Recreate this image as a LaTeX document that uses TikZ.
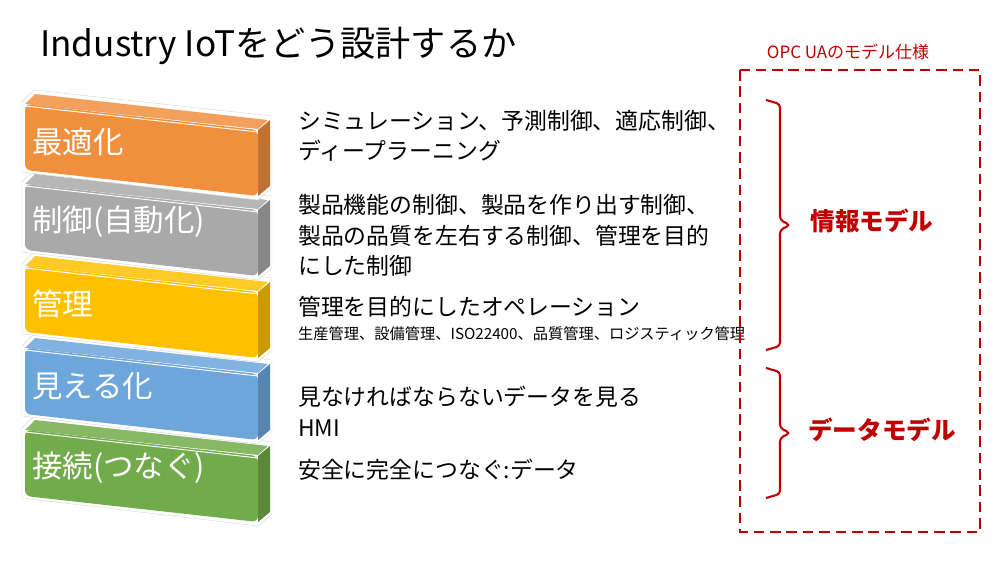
\documentclass[tikz,border=0pt]{standalone}
\usepackage{fontspec}
\setmainfont{Noto Sans CJK JP}
\begin{document}
\begin{tikzpicture}[x=0.03cm,y=-0.03cm]
\useasboundingbox (0,0) rectangle (1000,562);
\definecolor{cOr}{HTML}{F08F3E}\definecolor{cGr}{HTML}{A9A9A9}\definecolor{cYe}{HTML}{FFC000}
\definecolor{cBl}{HTML}{6CA6DA}\definecolor{cGn}{HTML}{72AB4B}\definecolor{dred}{HTML}{C00000}
\tikzset{lbl/.style={anchor=west,text=white,font=\fontsize{26}{28}\selectfont},
 body/.style={anchor=west,font=\fontsize{19.5}{22}\selectfont,inner sep=0},
 brk/.style={draw=dred,line width=1.8pt,rounded corners=3pt},
 mlab/.style={text=dred,font=\bfseries\fontsize{21}{24}\selectfont}}
\newcommand{\blk}[3]{%
 \fill[white,draw=white!85!black] (22,#1+10) -- (34,#1-2) -- (272,#1+24) -- (272,#1+96) -- (258,#1+108) -- (22,#1+80) -- cycle;
 \fill[#2!80!black] (258,#1+38) -- (270,#1+28) -- (270,#1+94) -- (258,#1+104) -- cycle;
 \fill[#2!85!white] (25,#1+12) -- (35,#1+2) -- (268,#1+28) -- (258,#1+37) -- cycle;
 \fill[#2,rounded corners=5pt] (25,#1+12) -- (258,#1+38) -- (258,#1+104) -- (25,#1+78) -- cycle;
 \draw[white,line width=0.8pt] (25,#1+14) -- (258,#1+40);
 \node[lbl] at (28,#1+50) {#3};}
\node[anchor=west,font=\fontsize{30}{33}\selectfont] (title) at (36,46) {Industry IoTをどう設計するか};
\blk{418}{cGn}{接続(つなぐ)}
\blk{336}{cBl}{見える化}
\blk{254}{cYe}{管理}
\blk{172}{cGr}{制御(自動化)}
\blk{92}{cOr}{最適化}
\node[body] (t1) at (298,121) {シミュレーション、予測制御、適応制御、};
\node[body] (t2) at (298,151) {ディープラーニング};
\node[body] (t3) at (298,205) {製品機能の制御、製品を作り出す制御、};
\node[body] (t4) at (298,236) {製品の品質を左右する制御、管理を目的};
\node[body] (t5) at (298,266) {にした制御};
\node[body] (t6) at (298,307) {管理を目的にしたオペレーション};
\node[body,font=\fontsize{13}{15}\selectfont] (t7) at (298,334) {生産管理、設備管理、ISO22400、品質管理、ロジスティック管理};
\node[body] (t8) at (298,397) {見なければならないデータを見る};
\node[body] (t9) at (298,428) {HMI};
\node[body] (t10) at (298,470) {安全に完全につなぐ:データ};
\draw[dred,dash pattern=on 9pt off 5pt,line width=1.4pt] (740,70) rectangle (980,532);
\node[text=dred,font=\fontsize{14.5}{16}\selectfont] (opc) at (848,52) {OPC UAのモデル仕様};
\draw[brk] (766,100) -- (780,104) -- (780,220) -- (790,225) -- (780,230) -- (780,346) -- (766,350);
\draw[brk] (766,368) -- (780,372) -- (780,428) -- (790,433) -- (780,438) -- (780,494) -- (766,498);
\node[mlab] (im) at (872,221) {情報モデル};
\node[mlab] (dm) at (882,430) {データモデル};
\end{tikzpicture}
\end{document}
